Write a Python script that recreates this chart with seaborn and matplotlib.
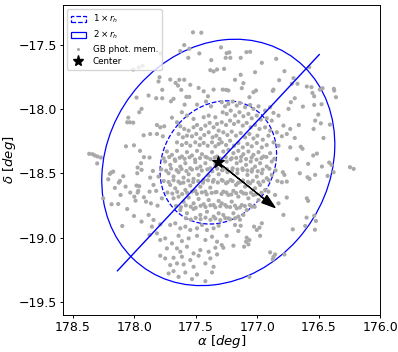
import numpy as np
import pandas as pd
import matplotlib
matplotlib.use("Agg")
import matplotlib.pyplot as plt
from matplotlib.patches import Ellipse, Patch
from matplotlib.lines import Line2D
import seaborn as sns

# ---- cluster geometry (deg) ----
center_ra = [177.316]
center_dec = [-18.414]
rh_major = [0.51]        # semi-major axis of 1 x r_h ellipse
rh_minor = [0.44]
rh_angle = [133.0]       # deg, in (ra, dec) data frame
axis_ra = [178.136, 176.495]
axis_dec = [-19.256, -17.576]
pm_vec = [-0.462, -0.351]

# ---- member stars (ra, dec), by region ----
pts_upper_left = [
    (178.008, -17.692), (177.962, -17.676), (177.932, -17.663), (177.981, -17.910),
    (177.940, -17.998), (177.959, -18.024), (178.048, -18.066), (178.057, -18.102),
    (178.035, -18.102), (178.008, -18.105), (177.923, -18.203), (178.067, -18.289),
    (178.002, -18.281),
]
pts_left = [
    (178.366, -18.347), (178.339, -18.350), (178.320, -18.360), (178.298, -18.368),
    (178.271, -18.376), (178.301, -18.422), (177.953, -18.324), (177.921, -18.373),
    (177.945, -18.420), (177.972, -18.454), (177.940, -18.472), (177.975, -18.498),
    (178.171, -18.485), (178.187, -18.493), (178.198, -18.503), (178.089, -18.521),
    (178.211, -18.545), (178.116, -18.558), (178.125, -18.571), (178.157, -18.612),
    (178.070, -18.602), (177.981, -18.594), (177.959, -18.599), (178.032, -18.648),
    (177.967, -18.635), (177.972, -18.648), (177.999, -18.680), (177.921, -18.685),
    (178.111, -18.667), (177.989, -18.711), (177.904, -18.719), (178.184, -18.739),
    (178.130, -18.737), (178.057, -18.776), (178.002, -18.830), (177.940, -18.874),
    (178.097, -18.908), (178.252, -18.693),
]
pts_top = [
    (177.522, -17.403), (177.454, -17.406), (177.593, -17.502), (177.625, -17.549),
    (177.552, -17.531), (177.470, -17.567), (177.560, -17.601), (177.788, -17.567),
    (177.373, -17.619), (177.381, -17.697), (177.354, -17.707), (177.326, -17.692),
    (177.794, -17.752), (177.802, -17.785), (177.707, -17.770), (177.663, -17.796),
    (177.633, -17.772), (177.593, -17.772), (177.644, -17.817), (177.617, -17.850),
    (177.544, -17.811), (177.576, -17.905), (177.552, -17.905), (177.772, -17.850),
    (177.821, -17.915), (177.772, -17.915), (177.883, -17.894), (177.680, -17.920),
    (177.701, -17.939), (177.476, -17.835), (177.435, -17.861), (177.354, -17.848),
    (177.400, -17.900), (177.590, -17.965), (177.489, -17.965), (177.416, -17.941),
    (177.375, -17.978), (177.815, -18.123), (177.788, -18.141), (177.756, -18.133),
    (177.693, -18.066), (177.612, -18.024), (177.571, -18.050), (177.870, -18.193),
    (177.767, -18.211), (177.815, -18.193),
    (177.294, -17.520), (177.248, -17.565), (177.226, -17.559), (177.256, -17.601),
    (177.218, -17.601), (177.087, -17.557), (177.057, -17.554), (177.134, -17.601),
    (177.269, -17.687), (177.180, -17.772), (177.134, -17.733), (177.112, -17.798),
    (177.017, -17.713), (176.962, -17.640), (176.845, -17.609), (176.778, -17.705),
    (176.821, -17.775), (176.867, -17.848), (176.873, -17.858), (177.009, -17.855),
    (177.030, -17.868), (177.063, -17.907), (177.280, -17.848), (177.253, -17.850),
    (177.234, -17.855), (177.125, -17.837), (176.718, -17.803), (176.704, -17.759),
]
pts_right = [
    (176.577, -17.674), (176.672, -17.803), (176.596, -17.824), (176.558, -17.829),
    (176.490, -17.848), (176.468, -17.837), (176.376, -17.842), (176.373, -17.855),
    (176.550, -17.874), (176.536, -17.900), (176.359, -17.907), (176.694, -17.915),
    (176.628, -17.980), (176.536, -17.967), (176.476, -17.962), (176.503, -18.042),
    (176.528, -18.089), (176.482, -18.110), (176.408, -18.120), (176.661, -18.123),
    (176.541, -18.154), (176.460, -18.224), (176.694, -18.224), (176.645, -18.292),
    (176.631, -18.308), (176.544, -18.360), (176.514, -18.345), (176.677, -18.389),
    (176.585, -18.425), (176.414, -18.415), (176.395, -18.433), (176.473, -18.446),
    (176.378, -18.490), (176.427, -18.519), (176.653, -18.498), (176.590, -18.529),
    (176.574, -18.542), (176.528, -18.511), (176.245, -18.451), (176.215, -18.464),
    (176.596, -18.693), (176.585, -18.713), (176.598, -18.843), (176.536, -18.828),
    (176.522, -18.869), (176.609, -18.908), (176.530, -18.937),
    (176.791, -18.490), (176.778, -18.511), (176.759, -18.563), (176.799, -18.568),
    (176.835, -18.558), (176.908, -18.641), (176.854, -18.667), (176.759, -18.687),
    (176.826, -18.732), (176.786, -18.822), (176.710, -18.934),
]
pts_bottom = [
    (177.180, -18.900), (177.134, -18.906), (177.153, -18.947), (177.248, -18.984),
    (177.025, -18.913), (177.003, -18.939), (176.981, -18.921), (176.962, -18.887),
    (176.976, -18.984), (177.085, -18.999), (177.063, -19.017), (177.090, -19.030),
    (177.106, -19.069), (177.071, -19.051), (177.288, -19.056), (177.275, -19.077),
    (177.193, -19.061), (176.894, -19.113), (176.867, -19.147), (176.873, -19.168),
    (176.854, -19.129), (176.778, -19.129), (177.063, -19.303),
    (177.875, -18.376), (177.848, -18.480), (177.870, -18.532), (177.802, -18.524),
    (177.843, -18.589), (177.875, -18.641), (177.821, -18.635), (177.775, -18.693),
    (177.864, -18.732), (177.810, -18.750), (177.883, -18.822), (177.843, -18.861),
    (177.856, -18.913), (177.788, -18.895), (177.815, -18.965), (177.875, -18.978),
    (177.707, -18.900), (177.666, -18.887), (177.625, -18.926), (177.584, -18.913),
    (177.544, -18.939), (177.489, -18.926), (177.449, -18.900), (177.408, -18.939),
    (177.354, -18.926), (177.313, -18.906), (177.788, -19.017), (177.748, -19.004),
    (177.693, -19.043), (177.639, -18.984), (177.612, -19.025), (177.557, -19.004),
    (177.489, -18.984), (177.421, -19.017), (177.367, -18.991), (177.326, -19.030),
    (177.734, -19.082), (177.652, -19.082), (177.625, -19.108), (177.571, -19.069),
    (177.517, -19.121), (177.462, -19.095), (177.394, -19.108), (177.340, -19.077),
    (177.788, -19.139), (177.748, -19.160), (177.680, -19.155), (177.612, -19.147),
    (177.544, -19.173), (177.476, -19.139), (177.381, -19.160), (177.326, -19.129),
    (177.707, -19.212), (177.652, -19.199), (177.598, -19.207), (177.517, -19.225),
    (177.421, -19.199), (177.354, -19.225), (177.720, -19.277), (177.680, -19.259),
    (177.584, -19.269), (177.489, -19.285), (177.367, -19.269), (177.639, -19.303),
    (177.530, -19.321), (177.421, -19.337),
]
pts_core_nw = [
    (177.652, -18.102), (177.625, -18.133), (177.593, -18.154), (177.557, -18.167),
    (177.517, -18.141), (177.489, -18.123), (177.457, -18.154), (177.421, -18.128),
    (177.386, -18.107), (177.354, -18.141), (177.326, -18.115), (177.313, -18.167),
    (177.639, -18.193), (177.604, -18.219), (177.571, -18.206), (177.530, -18.211),
    (177.495, -18.193), (177.462, -18.227), (177.430, -18.201), (177.394, -18.180),
    (177.362, -18.219), (177.332, -18.206), (177.305, -18.232), (177.652, -18.258),
    (177.612, -18.279), (177.576, -18.263), (177.544, -18.284), (177.503, -18.258),
    (177.468, -18.279), (177.435, -18.263), (177.402, -18.284), (177.367, -18.258),
    (177.340, -18.289), (177.313, -18.271), (177.517, -18.076), (177.435, -18.063),
    (177.340, -18.063), (177.394, -18.050),
]
pts_core_ne = [
    (177.288, -17.946), (177.261, -17.978), (177.234, -17.959), (177.199, -17.941),
    (177.166, -17.972), (177.139, -17.952), (177.098, -17.985), (177.057, -17.967),
    (177.030, -17.998), (176.989, -17.978), (176.935, -18.011), (176.894, -17.985),
    (176.867, -18.029), (176.826, -18.050), (176.745, -17.998), (176.726, -17.946),
    (177.280, -18.024), (177.248, -18.037), (177.215, -18.011), (177.180, -18.050),
    (177.144, -18.024), (177.112, -18.055), (177.071, -18.037), (177.044, -18.071),
    (177.003, -18.050), (176.970, -18.081), (176.922, -18.071), (176.881, -18.089),
    (176.786, -18.128), (176.731, -18.154), (177.288, -18.102), (177.253, -18.123),
    (177.220, -18.089), (177.188, -18.115), (177.153, -18.097), (177.117, -18.128),
    (177.085, -18.107), (177.052, -18.141), (177.017, -18.123), (176.981, -18.154),
    (176.935, -18.141), (176.894, -18.167), (176.840, -18.180), (177.275, -18.180),
    (177.242, -18.201), (177.207, -18.175), (177.172, -18.206), (177.134, -18.185),
    (177.098, -18.219), (177.063, -18.193), (177.030, -18.227), (176.998, -18.206),
    (176.954, -18.237), (176.908, -18.206), (176.867, -18.258), (176.799, -18.211),
    (176.759, -18.193), (177.288, -18.258), (177.253, -18.279), (177.220, -18.245),
    (177.188, -18.284), (177.153, -18.263), (177.117, -18.297), (177.079, -18.271),
    (177.044, -18.289), (177.003, -18.263), (176.962, -18.297), (176.922, -18.279),
    (176.826, -18.284), (176.731, -18.297),
]
pts_core_sw = [
    (177.734, -18.329), (177.693, -18.355), (177.652, -18.324), (177.612, -18.368),
    (177.571, -18.334), (177.530, -18.360), (177.489, -18.324), (177.449, -18.350),
    (177.408, -18.376), (177.367, -18.334), (177.326, -18.368),
    (177.748, -18.407), (177.707, -18.433), (177.666, -18.402), (177.625, -18.446),
    (177.584, -18.420), (177.544, -18.459), (177.503, -18.412), (177.462, -18.446),
    (177.421, -18.420), (177.381, -18.459), (177.340, -18.428),
    (177.720, -18.498), (177.680, -18.524), (177.639, -18.490), (177.598, -18.532),
    (177.557, -18.506), (177.517, -18.542), (177.476, -18.511), (177.435, -18.550),
    (177.394, -18.516), (177.354, -18.550), (177.313, -18.506),
    (177.707, -18.589), (177.666, -18.615), (177.625, -18.576), (177.584, -18.628),
    (177.544, -18.594), (177.503, -18.635), (177.462, -18.602), (177.421, -18.641),
    (177.381, -18.610), (177.340, -18.646),
    (177.680, -18.693), (177.639, -18.680), (177.598, -18.719), (177.557, -18.687),
    (177.517, -18.732), (177.476, -18.698), (177.435, -18.739), (177.394, -18.706),
    (177.354, -18.745), (177.313, -18.713),
    (177.625, -18.784), (177.571, -18.809), (177.517, -18.776), (177.462, -18.822),
    (177.408, -18.797), (177.354, -18.835), (177.313, -18.809),
]
pts_core_se = [
    (177.275, -18.329), (177.234, -18.316), (177.193, -18.342), (177.153, -18.324),
    (177.112, -18.350), (177.071, -18.329), (177.030, -18.355), (176.989, -18.334),
    (176.949, -18.368), (176.894, -18.342),
    (177.288, -18.394), (177.248, -18.407), (177.207, -18.381), (177.166, -18.420),
    (177.134, -18.402), (177.090, -18.433), (177.052, -18.407), (177.017, -18.446),
    (176.976, -18.420), (176.922, -18.446), (176.881, -18.407),
    (177.280, -18.472), (177.242, -18.490), (177.199, -18.459), (177.161, -18.498),
    (177.117, -18.472), (177.079, -18.511), (177.044, -18.485), (177.003, -18.524),
    (176.962, -18.498), (176.922, -18.537), (176.881, -18.511),
    (177.288, -18.550), (177.253, -18.576), (177.215, -18.550), (177.172, -18.589),
    (177.134, -18.563), (177.098, -18.602), (177.057, -18.576), (177.017, -18.615),
    (176.976, -18.589), (176.935, -18.628),
    (177.275, -18.641), (177.234, -18.667), (177.193, -18.635), (177.153, -18.680),
    (177.112, -18.654), (177.071, -18.693), (177.030, -18.667), (176.989, -18.706),
    (177.288, -18.732), (177.248, -18.758), (177.207, -18.719), (177.166, -18.771),
    (177.125, -18.745), (177.085, -18.784), (177.044, -18.758),
    (177.275, -18.822), (177.234, -18.848), (177.193, -18.809), (177.153, -18.835),
    (177.112, -18.822),
]
pts_core_fill = [
    (177.760, -18.382), (177.715, -18.372), (177.670, -18.391), (177.630, -18.378),
    (177.590, -18.386), (177.550, -18.374), (177.505, -18.392), (177.465, -18.380),
    (177.420, -18.371), (177.380, -18.389), (177.345, -18.377), (177.300, -18.385),
    (177.255, -18.373), (177.215, -18.390), (177.170, -18.379), (177.130, -18.371),
    (177.090, -18.388), (177.045, -18.376), (177.005, -18.392), (176.965, -18.381),
    (176.925, -18.372), (176.860, -18.386),
    (177.780, -18.468), (177.740, -18.478), (177.700, -18.462), (177.655, -18.474),
    (177.615, -18.466), (177.575, -18.481), (177.530, -18.470), (177.490, -18.461),
    (177.450, -18.477), (177.405, -18.468), (177.365, -18.483), (177.325, -18.463),
    (177.285, -18.475), (177.245, -18.466), (177.205, -18.480), (177.160, -18.469),
    (177.120, -18.461), (177.080, -18.476), (177.040, -18.467), (176.995, -18.482),
    (176.955, -18.470), (176.900, -18.463), (176.850, -18.476),
    (177.760, -18.558), (177.720, -18.566), (177.680, -18.552), (177.640, -18.563),
    (177.600, -18.571), (177.560, -18.555), (177.520, -18.566), (177.480, -18.559),
    (177.440, -18.572), (177.400, -18.553), (177.360, -18.564), (177.320, -18.570),
    (177.280, -18.556), (177.240, -18.567), (177.200, -18.559), (177.155, -18.573),
    (177.115, -18.554), (177.075, -18.565), (177.035, -18.557), (176.990, -18.570),
    (176.950, -18.561), (176.905, -18.552),
    (177.730, -18.648), (177.690, -18.656), (177.650, -18.643), (177.610, -18.660),
    (177.570, -18.650), (177.530, -18.641), (177.490, -18.658), (177.450, -18.647),
    (177.410, -18.662), (177.370, -18.651), (177.330, -18.644), (177.290, -18.659),
    (177.250, -18.648), (177.210, -18.663), (177.170, -18.652), (177.130, -18.642),
    (177.090, -18.657), (177.050, -18.649), (177.010, -18.661), (176.965, -18.650),
    (177.660, -18.752), (177.620, -18.762), (177.580, -18.748), (177.540, -18.758),
    (177.500, -18.766), (177.460, -18.751), (177.420, -18.760), (177.380, -18.747),
    (177.340, -18.763), (177.300, -18.754), (177.260, -18.745), (177.220, -18.761),
    (177.180, -18.750), (177.140, -18.764), (177.100, -18.753), (177.060, -18.744),
    (177.020, -18.759),
    (177.580, -18.848), (177.540, -18.858), (177.500, -18.845), (177.460, -18.855),
    (177.420, -18.843), (177.380, -18.860), (177.340, -18.850), (177.300, -18.862),
    (177.260, -18.846), (177.220, -18.856), (177.180, -18.848), (177.140, -18.859),
]

regions = [pts_upper_left, pts_left, pts_top, pts_right, pts_bottom,
           pts_core_nw, pts_core_ne, pts_core_sw, pts_core_se, pts_core_fill]
ra = [p[0] for reg in regions for p in reg]
dec = [p[1] for reg in regions for p in reg]
df = pd.DataFrame({"ra": ra, "dec": dec})

# ---- figure ----
fig = plt.figure(figsize=(3.98, 3.52), dpi=100)
ax = fig.add_axes([0.158, 0.105, 0.797, 0.881])

blue = "#0000ff"
e1 = Ellipse((center_ra[0], center_dec[0]), 2 * rh_major[0], 2 * rh_minor[0],
             angle=rh_angle[0], fill=False, edgecolor=blue, ls="--", lw=0.9)
e2 = Ellipse((center_ra[0], center_dec[0]), 4 * rh_major[0], 4 * rh_minor[0],
             angle=rh_angle[0], fill=False, edgecolor=blue, ls="-", lw=0.9)
ax.add_patch(e1)
ax.add_patch(e2)

sns.scatterplot(data=df, x="ra", y="dec", ax=ax, color="darkgray", s=9,
                edgecolor="none", linewidth=0, legend=False, zorder=2)

ax.plot(axis_ra, axis_dec, color=blue, lw=1.0, zorder=3)
ax.arrow(center_ra[0], center_dec[0], pm_vec[0], pm_vec[1], color="k",
         lw=0.9, head_width=0.07, head_length=0.11, length_includes_head=True,
         zorder=4)
ax.scatter(center_ra, center_dec, marker="*", s=75, color="k", zorder=5)

ax.set_xlim(178.58, 176.0)
ax.set_ylim(-19.6, -17.19)
ax.set_xticks([178.5, 178.0, 177.5, 177.0, 176.5, 176.0])
ax.set_yticks([-19.5, -19.0, -18.5, -18.0, -17.5])
ax.tick_params(labelsize=9, length=2.5, pad=1.5, width=0.7)
for s in ax.spines.values():
    s.set_linewidth(0.7)
ax.set_xlabel(r"$\alpha\ [deg]$", fontsize=9.5)
ax.set_ylabel(r"$\delta\ [deg]$", fontsize=9.5)
ax.xaxis.set_label_coords(0.5, -0.058)
ax.yaxis.set_label_coords(-0.14, 0.5)

handles = [
    Patch(facecolor="none", edgecolor=blue, ls="--", lw=0.9),
    Patch(facecolor="none", edgecolor=blue, ls="-", lw=0.9),
    Line2D([], [], ls="none", marker="o", ms=2.2, color="darkgray", mec="none"),
    Line2D([], [], ls="none", marker="*", ms=8, color="k"),
]
labels = [r"$1\times r_h$", r"$2\times r_h$", "GB phot. mem.", "Center"]
ax.legend(handles, labels, loc="upper left", fontsize=6.3, frameon=True,
          borderpad=0.4, labelspacing=0.4, handlelength=1.7,
          handletextpad=0.8, bbox_to_anchor=(0.0, 1.0))

fig.savefig("out.png", dpi=100)
